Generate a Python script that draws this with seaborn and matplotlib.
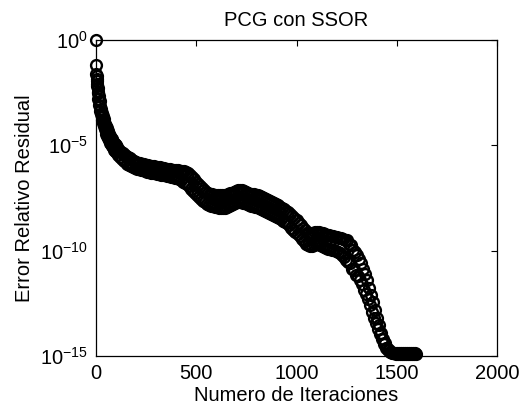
import numpy as np
import pandas as pd
import matplotlib
matplotlib.use("Agg")
import matplotlib.pyplot as plt
import seaborn as sns

# ---- data (log10 of the relative residual) ----
iters_early = list(range(0, 10)) + list(range(10, 100, 2)) + list(range(100, 150, 5))
logres_early = [
    0.0, -1.19, -1.6, -1.72, -1.85, -1.95, -2.1, -2.2, -2.3, -2.45,        # 0-9
    -2.5, -2.82, -2.65, -3.07, -2.88, -3.35, -3.12, -3.5, -3.28, -3.67,    # 10-28
    -3.45, -3.82, -3.59, -3.96, -3.73, -4.1, -3.86, -4.22, -3.98, -4.34,   # 30-48
    -4.1, -4.45, -4.2, -4.55, -4.3, -4.65, -4.39, -4.73, -4.47, -4.81,     # 50-68
    -4.55, -4.89, -4.63, -4.96, -4.7, -5.03, -4.76, -5.09, -4.82, -5.15,   # 70-88
    -4.88, -5.2, -4.93, -5.25, -4.98,                                      # 90-98
    -5.3, -5.1, -5.45, -5.2, -5.55, -5.3, -5.65, -5.38, -5.75, -5.45,      # 100-145
]

# iterations 150 .. 1595, every 5 iterations (one row = 50 iterations)
block_starts = list(range(150, 1600, 50))
logres_blocks = [
    [-5.5, -5.9, -5.56, -5.94, -5.62, -5.98, -5.68, -6.02, -5.74, -6.06],       # 150
    [-5.8, -6.1, -5.82, -6.13, -5.85, -6.16, -5.87, -6.19, -5.9, -6.22],        # 200
    [-5.92, -6.25, -5.94, -6.27, -5.96, -6.29, -5.98, -6.31, -6.0, -6.33],      # 250
    [-6.02, -6.35, -6.04, -6.37, -6.05, -6.39, -6.07, -6.41, -6.08, -6.43],     # 300
    [-6.1, -6.45, -6.12, -6.47, -6.13, -6.49, -6.15, -6.51, -6.16, -6.53],      # 350
    [-6.18, -6.55, -6.19, -6.6, -6.2, -6.65, -6.2, -6.72, -6.22, -6.78],        # 400
    [-6.25, -6.85, -6.32, -6.95, -6.42, -7.05, -6.52, -7.15, -6.62, -7.25],     # 450
    [-6.72, -7.35, -6.82, -7.45, -6.92, -7.55, -7.02, -7.62, -7.12, -7.7],      # 500
    [-7.2, -7.78, -7.25, -7.83, -7.3, -7.87, -7.33, -7.9, -7.35, -7.93],        # 550
    [-7.36, -7.95, -7.37, -7.96, -7.38, -7.97, -7.38, -7.97, -7.37, -7.96],     # 600
    [-7.35, -7.95, -7.32, -7.9, -7.28, -7.85, -7.24, -7.8, -7.2, -7.75],        # 650
    [-7.15, -7.7, -7.12, -7.68, -7.1, -7.68, -7.12, -7.72, -7.17, -7.76],       # 700
    [-7.22, -7.8, -7.26, -7.84, -7.29, -7.87, -7.31, -7.9, -7.33, -7.93],       # 750
    [-7.35, -7.95, -7.38, -7.98, -7.42, -8.02, -7.46, -8.06, -7.5, -8.1],       # 800
    [-7.55, -8.15, -7.6, -8.2, -7.65, -8.25, -7.7, -8.3, -7.75, -8.35],         # 850
    [-7.8, -8.4, -7.85, -8.45, -7.92, -8.52, -7.98, -8.58, -8.04, -8.64],       # 900
    [-8.1, -8.7, -8.18, -8.8, -8.27, -8.92, -8.36, -9.02, -8.45, -9.1],         # 950
    [-8.55, -9.2, -8.67, -9.32, -8.8, -9.45, -8.92, -9.56, -9.04, -9.66],       # 1000
    [-9.15, -9.75, -9.18, -9.77, -9.18, -9.76, -9.14, -9.73, -9.1, -9.7],       # 1050
    [-9.1, -9.7, -9.1, -9.74, -9.14, -9.78, -9.18, -9.83, -9.22, -9.87],        # 1100
    [-9.25, -9.9, -9.27, -9.93, -9.29, -9.96, -9.31, -9.99, -9.33, -10.02],     # 1150
    [-9.35, -10.05, -9.38, -10.12, -9.42, -10.22, -9.46, -10.32, -9.5, -10.42], # 1200
    [-9.5, -10.55, -9.7, -10.6, -9.75, -10.85, -9.95, -10.9, -10.05, -11.15],   # 1250
    [-10.2, -11.2, -10.4, -11.4, -10.6, -11.6, -10.85, -11.85, -11.1, -12.05],  # 1300
    [-11.4, -12.3, -11.75, -12.6, -12.1, -12.9, -12.45, -13.2, -12.8, -13.45],  # 1350
    [-13.2, -13.7, -13.55, -13.95, -13.9, -14.2, -14.2, -14.45, -14.4, -14.6],  # 1400
    [-14.6, -14.72, -14.7, -14.8, -14.8, -14.85, -14.85, -14.88, -14.86, -14.89],  # 1450
    [-14.86, -14.89, -14.86, -14.89, -14.87, -14.89, -14.87, -14.89, -14.87, -14.89],  # 1500
    [-14.87, -14.89, -14.87, -14.89, -14.87, -14.89, -14.87, -14.89, -14.87, -14.89],  # 1550
]

x_ticks = [0, 500, 1000, 1500, 2000]
y_ticks = [1e-15, 1e-10, 1e-5, 1e0]

title_text = "PCG con SSOR"
x_label = "Numero de Iteraciones"
y_label = "Error Relativo Residual"

iters_main, logres_main = [], []
for start, vals in zip(block_starts, logres_blocks):
    for k, v in enumerate(vals):
        iters_main.append(start + 5 * k)
        logres_main.append(v)

df = pd.DataFrame({
    "iter": iters_early + iters_main,
    "res": 10.0 ** np.array(logres_early + logres_main),
})

sns.set_style("white")
plt.rcParams["font.family"] = ["Liberation Sans", "DejaVu Sans"]
plt.rcParams["mathtext.default"] = "regular"
plt.rcParams["font.size"] = 14.5
plt.rcParams["text.color"] = "black"
plt.rcParams["axes.labelcolor"] = "black"

fig = plt.figure(figsize=(5.30, 4.16), dpi=100)
ax = fig.add_axes([96 / 530, 1 - 356 / 416, 401 / 530, 316 / 416])

sns.lineplot(data=df, x="iter", y="res", ax=ax, sort=False,
             linestyle="none", marker="o", markersize=7.8,
             markerfacecolor="none", markeredgecolor="black",
             markeredgewidth=1.7, clip_on=False, estimator=None)

ax.set_yscale("log")
ax.set_xlim(0, 2000)
ax.set_ylim(1e-15, 1e0)
ax.set_xticks(x_ticks)
ax.set_yticks(y_ticks)
ax.minorticks_off()
ax.tick_params(direction="in", length=4, width=0.8, top=True, right=True,
               labelsize=14.5, colors="black", pad=6)
for s in ax.spines.values():
    s.set_visible(True)
    s.set_color("black")
    s.set_linewidth(0.9)

ax.set_title(title_text, fontsize=14.5, pad=10, color="black")
ax.set_xlabel(x_label, fontsize=14.5, labelpad=2)
ax.set_ylabel(y_label, fontsize=14.5, labelpad=4)

fig.savefig("out.png", dpi=100, facecolor="white")
